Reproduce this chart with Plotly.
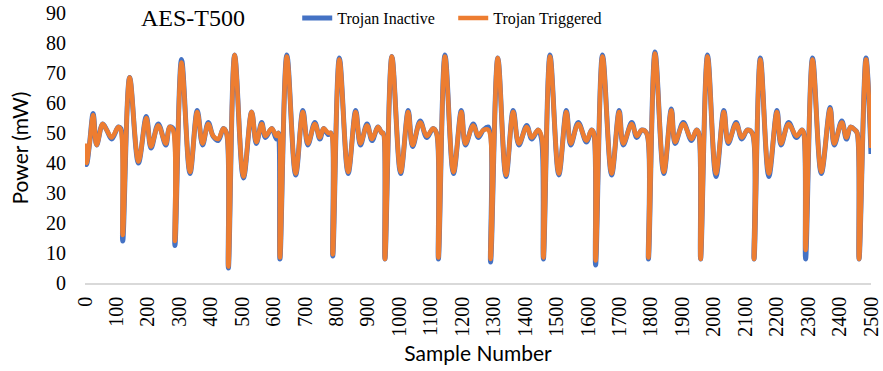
import plotly.graph_objects as go

# Sample numbers of the traced keypoints
samples = [
    0, 5, 14, 26, 37, 56, 69, 85, 106, 114,
    120, 142, 170, 195, 210, 233, 257, 269, 280,
    286, 307, 334, 357, 374, 392, 408, 424, 440, 450,
    456, 476, 504, 530, 545, 562, 574, 594, 609, 615,
    620, 642, 670, 693, 709, 731, 747, 759, 774, 782,
    788, 809, 837, 861, 876, 897, 913, 932, 944, 948,
    954, 976, 1004, 1028, 1042, 1066, 1087, 1107, 1118,
    1124, 1145, 1172, 1197, 1210, 1235, 1251, 1267, 1283,
    1290, 1313, 1339, 1362, 1380, 1405, 1421, 1441, 1452,
    1458, 1479, 1507, 1531, 1545, 1569, 1595, 1611, 1618,
    1624, 1646, 1675, 1699, 1712, 1739, 1755, 1771, 1786,
    1792, 1813, 1841, 1865, 1877, 1903, 1929, 1945, 1952,
    1958, 1980, 2007, 2032, 2046, 2071, 2089, 2107, 2122,
    2128, 2148, 2175, 2201, 2214, 2238, 2263, 2280, 2286,
    2292, 2314, 2342, 2370, 2383, 2407, 2422, 2435, 2449, 2456,
    2462, 2484, 2500,
]

trojan_triggered = [
    46.5, 40, 46, 56, 46, 53, 51, 48.5, 52, 51,
    16, 68.5, 40.5, 55, 45.5, 52.5, 46.5, 52, 51,
    14, 73.5, 37, 57, 46.5, 53, 49, 48, 51.5, 50,
    5.5, 76, 35.5, 57, 47, 53, 49, 51.5, 49, 50,
    8.5, 75.5, 36.5, 57, 46.5, 53, 48.5, 51.5, 50, 50,
    9.5, 74.5, 37, 57, 46.5, 52.5, 48, 52, 50, 50,
    8, 75.5, 37, 57, 46, 53.5, 49, 51.5, 50,
    8.5, 75.5, 37, 57, 46.5, 52.5, 49, 51, 51,
    8, 75, 36, 57, 46.5, 52, 48.5, 51, 49,
    8.5, 75.5, 36.5, 57, 46.5, 53, 47.5, 51, 50,
    7.5, 75.5, 36.5, 57, 46.5, 53, 49, 51, 50,
    8.5, 76.5, 37, 57.5, 47, 53, 48, 51, 50,
    8, 75.5, 36.5, 57, 47, 53, 48.5, 51, 50,
    8, 74.5, 36.5, 57, 46.5, 53, 49, 51, 50,
    11, 74.5, 37, 58, 46.5, 53.5, 48.5, 52, 51, 50,
    8, 74.5, 45,
]

trojan_inactive = [
    46, 39.5, 46, 56.5, 46, 53, 51, 48, 52, 51.5,
    14, 68.5, 40, 55.5, 45, 53, 46, 52, 51.5,
    12.5, 74.5, 36.5, 57.5, 46, 53.5, 48.8, 47.5, 51.5, 50,
    5, 76, 35, 57, 46.5, 53.5, 48.5, 51.5, 48, 50,
    8, 76, 36, 57.5, 46, 53.5, 48, 51.5, 49.5, 50,
    9, 75, 36.5, 57.5, 46, 53, 47.5, 52, 50, 50,
    8, 75.5, 36.5, 57.5, 45.5, 54, 48.5, 51.5, 50,
    8, 76, 36.5, 57.5, 46, 53, 48.5, 51, 52,
    7, 75, 35.5, 57.5, 46, 52.5, 48, 51, 48,
    8, 76, 36, 57.5, 46, 53.5, 47, 51, 50,
    6, 76, 36, 57.5, 46, 53.5, 48.5, 51, 50,
    8, 77, 36.5, 58, 46.5, 53.5, 47.5, 51, 50,
    8, 76, 35.5, 57.5, 46.5, 53.5, 48, 51, 50,
    8, 75, 35.5, 57.5, 46, 53.5, 48.5, 51, 50,
    8, 75, 36.5, 58.5, 46, 54, 48, 52, 51, 50,
    8, 75, 43,
]

x_ticks = list(range(0, 2501, 100))
y_ticks = list(range(0, 91, 10))

fig = go.Figure()
fig.add_trace(go.Scatter(
    x=samples, y=trojan_inactive, mode="lines", name="Trojan Inactive",
    line=dict(color="#4472C4", width=5, shape="spline", smoothing=1.0),
))
fig.add_trace(go.Scatter(
    x=samples, y=trojan_triggered, mode="lines", name="Trojan Triggered",
    line=dict(color="#ED7D31", width=4.5, shape="spline", smoothing=1.0),
))

serif = "Liberation Serif"
sans = "Lato"

W, H = 883, 371
fig.update_layout(
    width=W, height=H, autosize=False,
    margin=dict(l=85, r=12, t=13, b=88, pad=0, autoexpand=False),
    paper_bgcolor="white", plot_bgcolor="white",
    title=dict(text="AES-T500", x=193 / W, xanchor="center", xref="container",
               y=1 - 18 / H, yanchor="middle", yref="container", automargin=False,
               font=dict(family=serif, size=24, color="black")),
    legend=dict(orientation="h", x=0.27, xanchor="left", y=0.981, yanchor="middle",
                bgcolor="rgba(0,0,0,0)", font=dict(family=serif, size=16, color="black"),
                traceorder="normal", entrywidth=111, entrywidthmode="pixels"),
    showlegend=True,
)
fig.update_xaxes(
    range=[0, 2500], tickvals=x_ticks, ticktext=[str(v) for v in x_ticks],
    tickangle=-90, showgrid=False, zeroline=False, automargin=False,
    showline=True, linecolor="#d9d9d9", linewidth=1.5, ticklabeloverflow="allow",
    ticks="", ticklabelstandoff=4, tickfont=dict(family=serif, size=20, color="black"),
    title=dict(text="Sample Number", font=dict(family=sans, size=21, color="black"), standoff=11),
)
fig.update_yaxes(
    range=[0, 90], tickvals=y_ticks, showgrid=False, zeroline=False, automargin=False,
    showline=False, ticks="", ticklabelstandoff=18, ticklabeloverflow="allow",
    tickfont=dict(family=serif, size=20, color="black"),
    title=dict(text="Power (mW)", font=dict(family=sans, size=21, color="black"), standoff=11),
)

# remove the browser's default 8px body margin so the figure fills the window
fig.write_html(
    "out.html",
    config={"displayModeBar": False},
    post_script="document.body.style.margin='0';document.body.style.overflow='hidden';",
)
